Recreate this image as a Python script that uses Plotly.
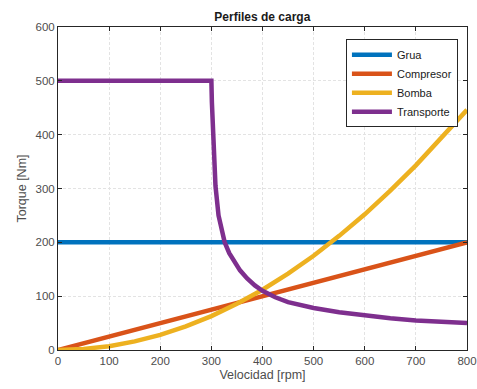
import plotly.graph_objects as go

# Velocity samples [rpm] and torque values [Nm]
vel_grua = [0, 800]
torque_grua = [200, 200]

vel_compresor = [0, 100, 200, 300, 400, 500, 600, 700, 800]
torque_compresor = [0, 25, 50, 75, 100, 125, 150, 175, 200]

vel_bomba = [0, 50, 100, 150, 200, 250, 300, 350, 400, 450, 500, 550, 600, 650, 700, 750, 800]
torque_bomba = [0, 2, 7, 16, 28, 44, 63, 86, 112, 142, 175, 212, 252, 296, 343, 394, 446]

vel_transporte = [0, 300, 301, 302, 303, 305, 308, 314, 319, 326, 335, 345, 356, 370,
                  385, 400, 425, 450, 500, 550, 600, 650, 700, 750, 800]
torque_transporte = [500, 500, 460, 430, 400, 350, 305, 250, 225, 200, 180, 163, 148, 133,
                     120, 110, 98, 89, 78, 70, 64, 59, 55, 52, 50]

series = [
    ("Grua", vel_grua, torque_grua, "#0072BD"),
    ("Compresor", vel_compresor, torque_compresor, "#D95319"),
    ("Bomba", vel_bomba, torque_bomba, "#EDB120"),
    ("Transporte", vel_transporte, torque_transporte, "#7E2F8E"),
]

fig = go.Figure()
for name, xs, ys, col in series:
    fig.add_trace(go.Scatter(x=xs, y=ys, mode="lines", name=name,
                             line=dict(color=col, width=4.5)))

axis_common = dict(
    showgrid=True, gridcolor="#e3e3e3", griddash="3px,2px", gridwidth=1,
    showline=True, linecolor="#262626", linewidth=1, mirror="ticks",
    ticks="inside", ticklen=4, tickcolor="#262626",
    zeroline=False, tickfont=dict(size=11.5, color="#4d4d4d"),
    automargin=False,
)

fig.update_layout(
    width=477, height=389,
    margin=dict(l=58, r=10, t=27, b=39),
    paper_bgcolor="white", plot_bgcolor="white",
    font=dict(family="Liberation Sans, Arial, sans-serif", color="#262626"),
    title=dict(text="<b>Perfiles de carga</b>", x=0.55, xanchor="center",
               y=0.958, yanchor="middle", font=dict(size=12, color="#1a1a1a")),
    xaxis=dict(range=[0, 800], dtick=100,
               title=dict(text="Velocidad [rpm]", font=dict(size=12.5, color="#4d4d4d"), standoff=4),
               **axis_common),
    yaxis=dict(range=[0, 600], dtick=100,
               title=dict(text="Torque [Nm]", font=dict(size=12.5, color="#4d4d4d"), standoff=6),
               **axis_common),
    legend=dict(x=0.704, y=0.962, xanchor="left", yanchor="top",
                bgcolor="white", bordercolor="#262626", borderwidth=1,
                font=dict(size=11, color="#1a1a1a"), tracegroupgap=0,
                itemwidth=40),
    showlegend=True,
)

fig.write_html("out.html", config={"displayModeBar": False},
               post_script="document.body.style.margin='0';document.body.style.overflow='hidden';")
